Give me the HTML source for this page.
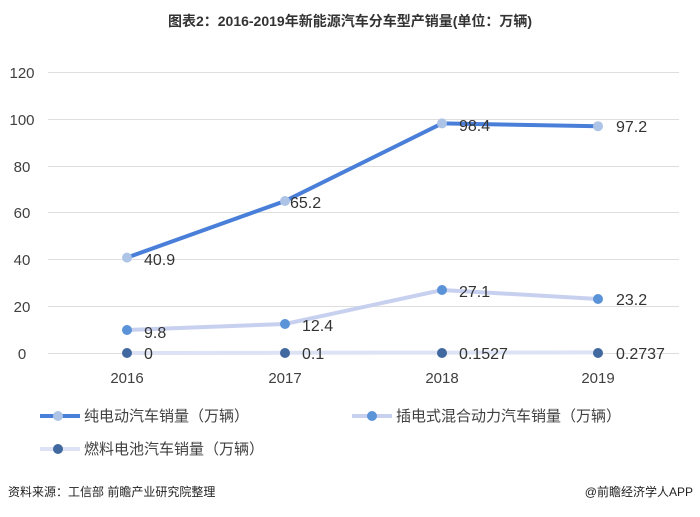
<!DOCTYPE html>
<html><head><meta charset="utf-8"><style>
body{margin:0;background:#fff;width:700px;height:512px;overflow:hidden}
text{font-family:"Liberation Sans","Noto Sans CJK SC",sans-serif}
</style></head><body>
<svg width="700" height="512" xmlns="http://www.w3.org/2000/svg">
<text x="350" y="26" text-anchor="middle" font-size="14" font-weight="bold" fill="#333">图表2：2016-2019年新能源汽车分车型产销量(单位：万辆)</text>
<g stroke="#dedede" stroke-width="1">
<line x1="48" x2="679" y1="72.5" y2="72.5"/><line x1="48" x2="679" y1="119.5" y2="119.5"/><line x1="48" x2="679" y1="166.5" y2="166.5"/><line x1="48" x2="679" y1="212.5" y2="212.5"/><line x1="48" x2="679" y1="259.5" y2="259.5"/><line x1="48" x2="679" y1="306.5" y2="306.5"/><line x1="48" x2="679" y1="353.5" y2="353.5"/>
</g>
<g font-size="15" fill="#404040" text-anchor="middle">
<text x="22" y="78">120</text><text x="22" y="125">100</text><text x="22" y="172">80</text><text x="22" y="218">60</text><text x="22" y="265">40</text><text x="22" y="312">20</text><text x="22" y="359">0</text>
<text x="127" y="383">2016</text><text x="285" y="383">2017</text><text x="442" y="383">2018</text><text x="598" y="383">2019</text>
</g>
<polyline points="127,353 285,352.8 442,352.6 598,352.4" fill="none" stroke="#dde3f5" stroke-width="4"/>
<polyline points="127,330 285,324 442,290 598,299" fill="none" stroke="#c8d0f0" stroke-width="4"/>
<polyline points="127,257.6 285,201 442,123.4 598,126.2" fill="none" stroke="#4a7fd9" stroke-width="4"/>
<g fill="#aec4e6"><circle cx="127" cy="257.6" r="5"/><circle cx="285" cy="201" r="5"/><circle cx="442" cy="123.4" r="5"/><circle cx="598" cy="126.2" r="5"/></g>
<g fill="#5b93d8"><circle cx="127" cy="330" r="5"/><circle cx="285" cy="324" r="5"/><circle cx="442" cy="290" r="5"/><circle cx="598" cy="299" r="5"/></g>
<g fill="#41689f"><circle cx="127" cy="353" r="5"/><circle cx="285" cy="353" r="5"/><circle cx="442" cy="353" r="5"/><circle cx="598" cy="353" r="5"/></g>
<g font-size="16" fill="#333">
<text x="144" y="265">40.9</text><text x="290" y="208">65.2</text><text x="459" y="131">98.4</text><text x="616" y="132">97.2</text>
<text x="144" y="338">9.8</text><text x="302" y="331">12.4</text><text x="459" y="297">27.1</text><text x="616" y="305">23.2</text>
<text x="144" y="359">0</text><text x="302" y="359">0.1</text><text x="459" y="359">0.1527</text><text x="616" y="359">0.2737</text>
</g>
<line x1="40" x2="80" y1="416" y2="416" stroke="#4a7fd9" stroke-width="4"/><circle cx="58" cy="416" r="5" fill="#aec4e6"/>
<text x="84" y="421" font-size="15" fill="#404040">纯电动汽车销量（万辆）</text>
<line x1="352" x2="392" y1="416" y2="416" stroke="#c8d0f0" stroke-width="4"/><circle cx="372" cy="416" r="5" fill="#5b93d8"/>
<text x="396" y="421" font-size="15" fill="#404040">插电式混合动力汽车销量（万辆）</text>
<line x1="40" x2="80" y1="449" y2="449" stroke="#dde3f5" stroke-width="4"/><circle cx="58" cy="449" r="5" fill="#41689f"/>
<text x="84" y="454" font-size="15" fill="#404040">燃料电池汽车销量（万辆）</text>
<text x="8" y="496" font-size="12" fill="#222">资料来源：工信部 前瞻产业研究院整理</text>
<text x="693" y="496" font-size="12" fill="#222" text-anchor="end">@前瞻经济学人APP</text>
</svg>
</body></html>
